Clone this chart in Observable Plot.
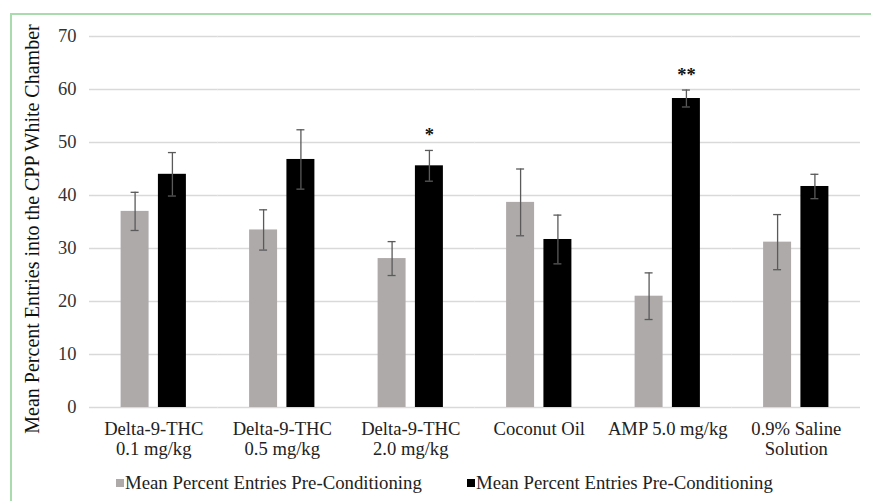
<!DOCTYPE html>
<html><head><meta charset="utf-8">
<script src="https://cdn.jsdelivr.net/npm/d3@7"></script>
<script src="https://cdn.jsdelivr.net/npm/@observablehq/plot@0.6"></script>
<style>
html,body{margin:0;padding:0;background:#fff;overflow:hidden;width:871px;height:501px;}
#wrap{position:relative;width:871px;height:501px;font-family:"Liberation Serif",serif;}
#frame{position:absolute;left:10px;top:13px;width:900px;height:600px;border:2px solid #a9dcad;box-sizing:border-box;pointer-events:none}
#chart{position:absolute;left:0;top:0}
#legend{position:absolute;left:0;top:468px;width:871px;height:30px;font-size:18.8px;color:#222}
.item{position:absolute;top:0;height:30px;display:flex;align-items:center;white-space:nowrap}
.sw{width:8px;height:8px;margin-right:1px}
</style></head>
<body><div id="wrap"><div id="frame"></div><div id="chart"></div><div id="legend"></div></div>
<script>
const categories = ["Delta-9-THC\n0.1 mg/kg", "Delta-9-THC\n0.5 mg/kg", "Delta-9-THC\n2.0 mg/kg", "Coconut Oil", "AMP 5.0 mg/kg", "0.9% Saline\nSolution"];
const seriesKeys = ["pre", "post"];
const seriesLabels = ["Mean Percent Entries Pre-Conditioning", "Mean Percent Entries Pre-Conditioning"];
const preValues = [37.0, 33.5, 28.1, 38.7, 21.0, 31.2];
const preErrors = [3.6, 3.8, 3.2, 6.3, 4.4, 5.2];
const postValues = [44.0, 46.8, 45.6, 31.7, 58.3, 41.7];
const postErrors = [4.1, 5.6, 2.9, 4.6, 1.6, 2.3];
const significance = ["", "", "*", "", "**", ""];
const yTicks = [0, 10, 20, 30, 40, 50, 60, 70];
const yTitle = "Mean Percent Entries into the CPP White Chamber";

const seriesColors = ["#aeaaaa", "#000000"];
const errColor = "#5a5a5a";

const rows = categories.flatMap((c, i) => [
  {cat: c, series: seriesKeys[0], value: preValues[i], err: preErrors[i], sig: ""},
  {cat: c, series: seriesKeys[1], value: postValues[i], err: postErrors[i], sig: significance[i]}
]);

const chart = Plot.plot({
  width: 871,
  height: 468,
  marginTop: 36,
  marginBottom: 61,
  marginLeft: 89,
  marginRight: 11,
  style: {fontFamily: "'Liberation Serif', serif", fontSize: "18px", background: "transparent"},
  fx: {domain: categories, paddingInner: 0, paddingOuter: 0, round: false, label: null},
  x: {domain: seriesKeys, paddingInner: 0.25, paddingOuter: 0.847, round: false, axis: null},
  y: {domain: [0, 70], axis: null},
  color: {domain: seriesKeys, range: seriesColors},
  marks: [
    Plot.gridY(yTicks, {stroke: "#d9d9d9", strokeOpacity: 1, strokeWidth: 1.5}),
    Plot.barY(rows, {fx: "cat", x: "series", y: "value", fill: "series"}),
    Plot.ruleX(rows, {fx: "cat", x: "series", y1: d => d.value - d.err, y2: d => d.value + d.err, stroke: errColor, strokeWidth: 1.3}),
    Plot.tickY(rows, {fx: "cat", x: "series", y: d => d.value + d.err, stroke: errColor, strokeWidth: 1.3, inset: 10}),
    Plot.tickY(rows, {fx: "cat", x: "series", y: d => d.value - d.err, stroke: errColor, strokeWidth: 1.3, inset: 10}),
    Plot.text(rows.filter(d => d.sig), {fx: "cat", x: "series", y: d => d.value + d.err, text: "sig", lineAnchor: "bottom", dy: -9, fontSize: 18.5, fontWeight: "bold", fill: "#111"}),
    Plot.axisY(yTicks, {tickSize: 0, tickPadding: 13, fontSize: 18.5, fill: "#333", label: null}),
    Plot.axisFx({anchor: "bottom", tickSize: 0, tickPadding: 13, fontSize: 18.6, fill: "#222", label: null, lineHeight: 1.07}),
    Plot.text([yTitle], {text: d => d, frameAnchor: "left", rotate: -90, dx: -57, dy: 7, fontSize: 20, fill: "#111", textAnchor: "middle", lineAnchor: "middle", facetAnchor: "left"})
  ]
});
document.getElementById("chart").appendChild(chart);

const legend = document.getElementById("legend");
const legendLeft = [116, 467];
seriesLabels.forEach((lab, i) => {
  const it = document.createElement("div");
  it.className = "item";
  it.style.left = legendLeft[i] + "px";
  const sw = document.createElement("span");
  sw.className = "sw";
  sw.style.background = seriesColors[i];
  const t = document.createElement("span");
  t.textContent = lab;
  it.appendChild(sw); it.appendChild(t);
  legend.appendChild(it);
});
</script>
</body></html>
